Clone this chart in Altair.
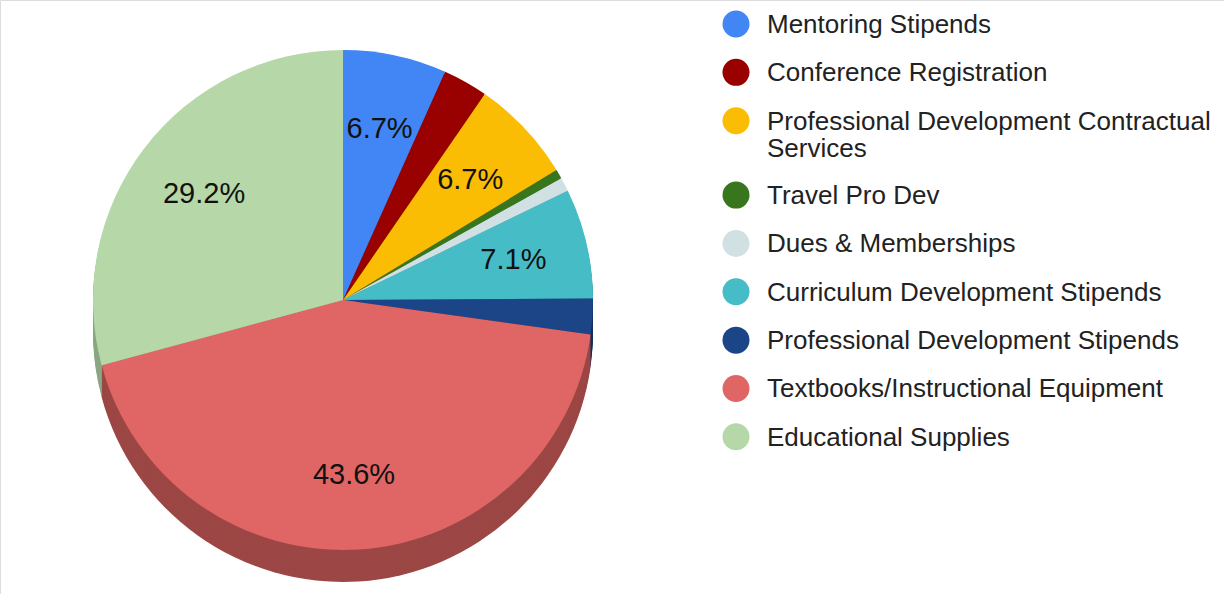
import math
import altair as alt
import pandas as pd

# ---- data ----
categories = [
    "Mentoring Stipends",
    "Conference Registration",
    "Professional Development Contractual Services",
    "Travel Pro Dev",
    "Dues & Memberships",
    "Curriculum Development Stipends",
    "Professional Development Stipends",
    "Textbooks/Instructional Equipment",
    "Educational Supplies",
]
shares = [6.7, 2.9, 6.7, 0.6, 0.9, 7.1, 2.3, 43.6, 29.2]
legend_lines = [
    ["Mentoring Stipends"],
    ["Conference Registration"],
    ["Professional Development Contractual", "Services"],
    ["Travel Pro Dev"],
    ["Dues & Memberships"],
    ["Curriculum Development Stipends"],
    ["Professional Development Stipends"],
    ["Textbooks/Instructional Equipment"],
    ["Educational Supplies"],
]
top_colors = ["#4285f4", "#990000", "#fbbc04", "#38761d", "#d0e0e3",
              "#46bdc6", "#1c4587", "#e06666", "#b6d7a8"]
side_colors = ["#2e5daa", "#6b0000", "#b08303", "#274f14", "#92a0a2",
               "#31848b", "#14305e", "#9c4745", "#8aa882"]

# ---- table ----
n_extra = [len(l) - 1 for l in legend_lines]
extra_before = [sum(n_extra[:i]) for i in range(len(n_extra))]
df = pd.DataFrame({
    "category": categories,
    "share": shares,
    "idx": list(range(len(categories))),
    "top": top_colors,
    "side": side_colors,
    "lines": legend_lines,
    "pos": [i + 0.54 * e for i, e in enumerate(extra_before)],
})

W, H = 1224, 594
CX, CY, R, DEPTH = 343, 300, 250, 32
FONT = "Liberation Sans"

base = alt.Chart(df)
theta = alt.Theta("share:Q", stack=True)
order = alt.Order("idx:Q", sort="ascending")

layers = []
for k in range(DEPTH, 0, -2):
    layers.append(
        base.mark_arc(outerRadius=R).encode(
            theta=theta, order=order,
            color=alt.Color("side:N", scale=None),
            x=alt.value(CX), y=alt.value(CY + k),
        )
    )

top = base.mark_arc(outerRadius=R).encode(
    theta=theta, order=order,
    color=alt.Color("top:N", scale=None),
    x=alt.value(CX), y=alt.value(CY),
)
layers.append(top)

labels = base.transform_calculate(
    lbl="datum.share >= 5 ? format(datum.share, '.1f') + '%' : ''"
).mark_text(radius=R * 0.7, fontSize=29, font=FONT, color="#111111").encode(
    theta=theta, order=order, text="lbl:N",
    x=alt.value(CX), y=alt.value(CY),
)
layers.append(labels)

ypos = alt.Y("pos:Q", scale=alt.Scale(domain=[0, 8], range=[24, 24 + 8 * 48.34]), axis=None)
leg_sym = base.mark_point(filled=True, shape="circle", size=729, opacity=1).encode(
    x=alt.value(736), y=ypos, color=alt.Color("top:N", scale=None),
)
leg_txt = base.mark_text(align="left", baseline="alphabetic", dy=9, fontSize=26,
                         lineHeight=27, font=FONT, color="#222222").encode(
    x=alt.value(767), y=ypos, text="lines",
)
layers += [leg_sym, leg_txt]

chart = alt.layer(*layers).properties(
    width=W, height=H, padding=0, autosize="none",
).configure_view(strokeWidth=0).configure(background="white")

chart.save("out.html", embed_options={"renderer": "svg", "actions": False})
